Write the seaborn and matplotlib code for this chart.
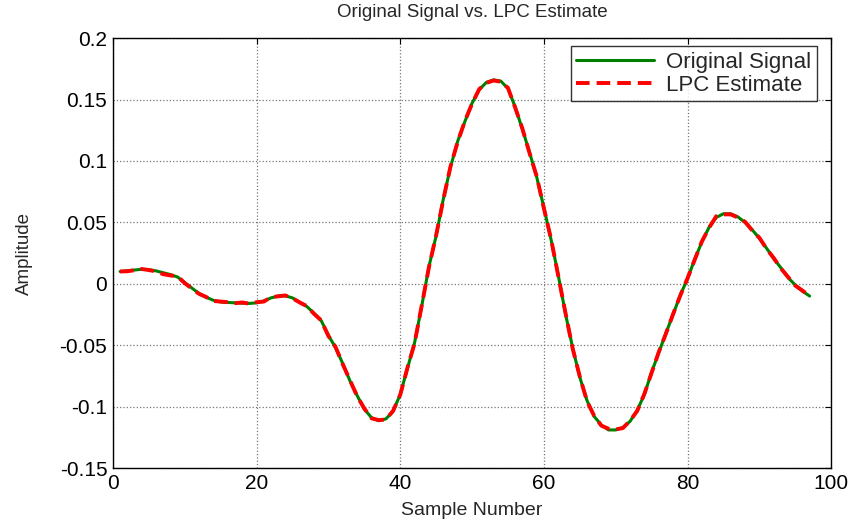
import numpy as np
import pandas as pd
import matplotlib
matplotlib.use('Agg')
import matplotlib.pyplot as plt
import seaborn as sns

# sample index and values
samples = list(range(1, 98))
original = [
    0.0100, 0.0105, 0.0112, 0.0118, 0.0115, 0.0105, 0.0090, 0.0075, 0.0055, 0.0010,
    -0.0035, -0.0080, -0.0110, -0.0135, -0.0148, -0.0152, -0.0155, -0.0158, -0.0160, -0.0155,
    -0.0140, -0.0115, -0.0100, -0.0098, -0.0115, -0.0150, -0.0185, -0.0240, -0.0300, -0.0420,
    -0.0520, -0.0650, -0.0790, -0.0910, -0.1020, -0.1090, -0.1115, -0.1100, -0.1040, -0.0900,
    -0.0690, -0.0480, -0.0180, 0.0140, 0.0390, 0.0690, 0.0950, 0.1160, 0.1320, 0.1470,
    0.1580, 0.1640, 0.1660, 0.1650, 0.1590, 0.1440, 0.1260, 0.1070, 0.0870, 0.0620,
    0.0360, 0.0070, -0.0240, -0.0520, -0.0760, -0.0950, -0.1080, -0.1150, -0.1190, -0.1190,
    -0.1170, -0.1120, -0.1030, -0.0900, -0.0720, -0.0560, -0.0400, -0.0250, -0.0090, 0.0040,
    0.0200, 0.0340, 0.0460, 0.0540, 0.0570, 0.0570, 0.0545, 0.0500, 0.0440, 0.0370,
    0.0290, 0.0205, 0.0130, 0.0050, -0.0010, -0.0060, -0.0100,
]
lpc = [
    0.0100, 0.0102, 0.0110, 0.0120, 0.0112, 0.0100, 0.0078, 0.0068, 0.0060, 0.0005,
    -0.0040, -0.0082, -0.0108, -0.0140, -0.0145, -0.0150, -0.0158, -0.0152, -0.0162, -0.0150,
    -0.0145, -0.0110, -0.0102, -0.0095, -0.0118, -0.0152, -0.0182, -0.0245, -0.0298, -0.0425,
    -0.0515, -0.0655, -0.0785, -0.0915, -0.1015, -0.1095, -0.1110, -0.1105, -0.1035, -0.0905,
    -0.0685, -0.0485, -0.0175, 0.0135, 0.0395, 0.0685, 0.0955, 0.1155, 0.1325, 0.1465,
    0.1585, 0.1635, 0.1655, 0.1645, 0.1595, 0.1435, 0.1265, 0.1065, 0.0875, 0.0615,
    0.0365, 0.0065, -0.0235, -0.0525, -0.0755, -0.0955, -0.1075, -0.1155, -0.1180, -0.1185,
    -0.1175, -0.1115, -0.1035, -0.0895, -0.0725, -0.0555, -0.0405, -0.0245, -0.0095, 0.0045,
    0.0195, 0.0345, 0.0455, 0.0550, 0.0565, 0.0565, 0.0540, 0.0505, 0.0435, 0.0375,
    0.0285, 0.0210, 0.0125, 0.0055, -0.0015, -0.0055, -0.0100,
]
xticks = [0, 20, 40, 60, 80, 100]
yticks = [-0.15, -0.1, -0.05, 0, 0.05, 0.1, 0.15, 0.2]
ytick_labels = ['-0.15', '-0.1', '-0.05', '0', '0.05', '0.1', '0.15', '0.2']

df = pd.DataFrame({'n': samples, 'orig': original, 'lpc': lpc})

sns.set_style('white')
plt.rcParams['font.family'] = ['Liberation Sans', 'DejaVu Sans']

fig = plt.figure(figsize=(8.49, 5.22), dpi=100)
ax = fig.add_axes([0.133, 0.1034, 0.846, 0.8236])

sns.lineplot(data=df, x='n', y='orig', ax=ax, color='green', linewidth=2.2,
             label='Original Signal')
sns.lineplot(data=df, x='n', y='lpc', ax=ax, color='red', linewidth=2.8,
             linestyle=(0, (3.5, 1.8)), label='LPC Estimate')

ax.set_xlim(0, 100)
ax.set_ylim(-0.15, 0.2)
ax.set_xticks(xticks)
ax.set_yticks(yticks)
ax.set_yticklabels(ytick_labels)
ax.tick_params(direction='in', length=4, width=0.8, top=True, right=True,
               labelsize=15, colors='black', pad=4)
ax.grid(True, color='#777777', linestyle=':', linewidth=0.9)
for s in ax.spines.values():
    s.set_color('black')
    s.set_linewidth(1.0)

ax.set_title('Original Signal vs. LPC Estimate', fontsize=13.5, pad=15)
ax.set_xlabel('Sample Number', fontsize=14, labelpad=7)
ax.set_ylabel('Amplitude', fontsize=13.5, labelpad=19)

leg = ax.legend(loc='upper right', bbox_to_anchor=(0.9805, 0.981), borderaxespad=0,
                fontsize=16, frameon=True, fancybox=False, shadow=False,
                handlelength=3.5, handletextpad=0.55, labelspacing=0.08,
                borderpad=0.25)
leg.get_frame().set_edgecolor('black')
leg.get_frame().set_linewidth(1.0)

fig.savefig('out.png', dpi=100)
